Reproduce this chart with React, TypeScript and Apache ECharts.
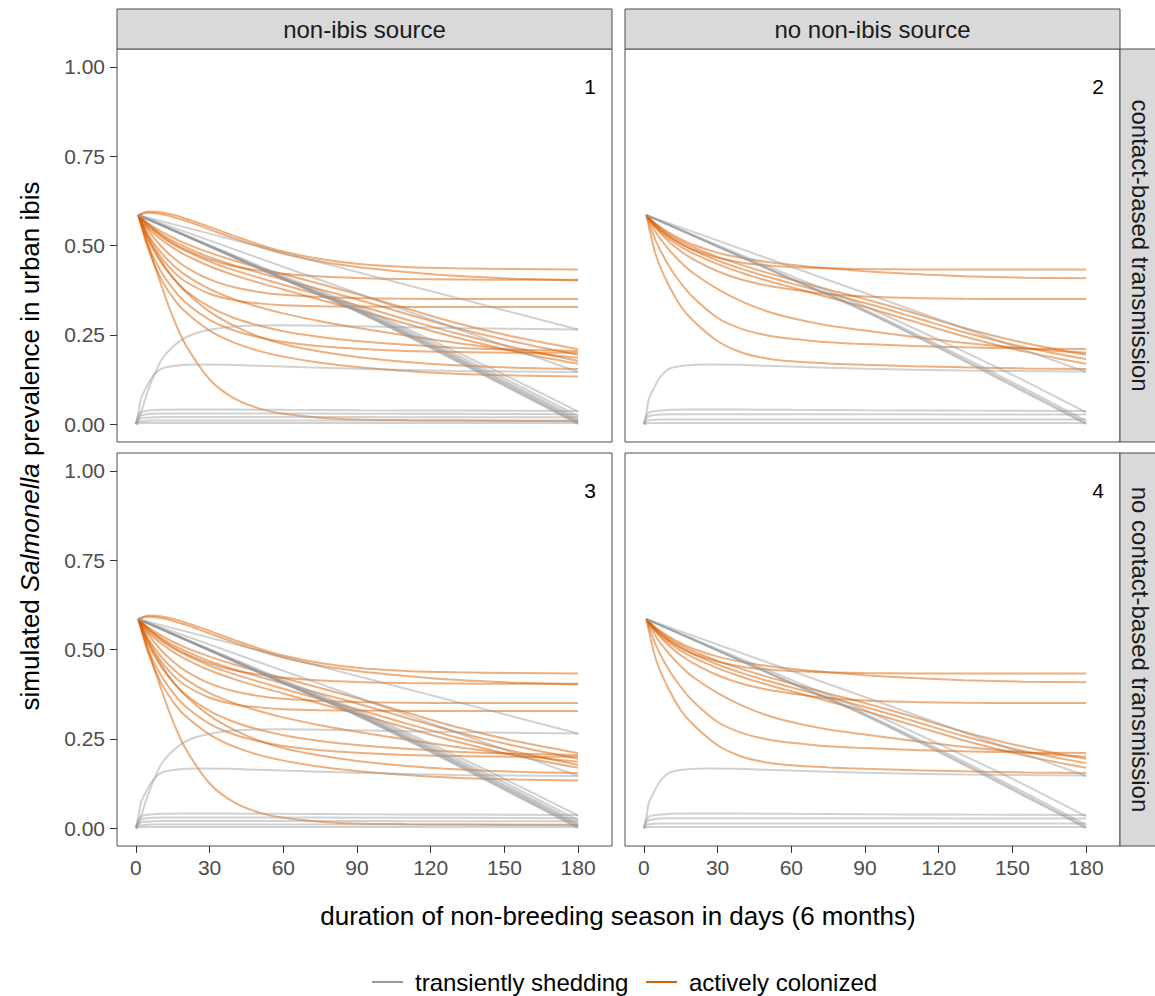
import React, { useEffect, useRef } from "react";
import * as echarts from "echarts";

// ---------- data ----------
const days = [1, 5, 10, 15, 20, 30, 40, 50, 60, 75, 90, 110, 130, 155, 180];

const colonizedWithSource = [
  [0.585, 0.595, 0.593, 0.586, 0.576, 0.552, 0.527, 0.503, 0.483, 0.462, 0.449, 0.44, 0.436, 0.434, 0.433],
  [0.585, 0.592, 0.588, 0.58, 0.57, 0.545, 0.52, 0.497, 0.477, 0.455, 0.44, 0.426, 0.415, 0.407, 0.402],
  [0.585, 0.558, 0.53, 0.507, 0.489, 0.461, 0.442, 0.43, 0.421, 0.413, 0.409, 0.406, 0.405, 0.404, 0.404],
  [0.585, 0.542, 0.5, 0.467, 0.441, 0.405, 0.383, 0.37, 0.362, 0.356, 0.353, 0.351, 0.35, 0.35, 0.35],
  [0.585, 0.525, 0.469, 0.429, 0.4, 0.365, 0.347, 0.338, 0.333, 0.33, 0.329, 0.328, 0.328, 0.328, 0.328],
  [0.585, 0.562, 0.54, 0.522, 0.506, 0.48, 0.458, 0.438, 0.42, 0.392, 0.364, 0.324, 0.284, 0.243, 0.21],
  [0.585, 0.558, 0.533, 0.513, 0.496, 0.467, 0.444, 0.424, 0.405, 0.377, 0.349, 0.309, 0.27, 0.229, 0.194],
  [0.585, 0.553, 0.526, 0.504, 0.486, 0.455, 0.431, 0.41, 0.39, 0.361, 0.333, 0.293, 0.255, 0.213, 0.177],
  [0.585, 0.548, 0.518, 0.494, 0.474, 0.442, 0.417, 0.396, 0.377, 0.348, 0.32, 0.281, 0.243, 0.202, 0.169],
  [0.585, 0.53, 0.482, 0.446, 0.418, 0.378, 0.35, 0.328, 0.31, 0.288, 0.27, 0.248, 0.228, 0.205, 0.186],
  [0.585, 0.515, 0.455, 0.41, 0.375, 0.328, 0.297, 0.276, 0.26, 0.244, 0.233, 0.222, 0.214, 0.208, 0.205],
  [0.585, 0.5, 0.43, 0.38, 0.342, 0.292, 0.262, 0.243, 0.23, 0.218, 0.211, 0.205, 0.202, 0.2, 0.2],
  [0.585, 0.52, 0.46, 0.41, 0.372, 0.315, 0.275, 0.245, 0.224, 0.203, 0.188, 0.174, 0.165, 0.158, 0.154],
  [0.585, 0.49, 0.41, 0.355, 0.315, 0.262, 0.228, 0.205, 0.189, 0.172, 0.16, 0.149, 0.141, 0.136, 0.133],
  [0.585, 0.5, 0.395, 0.3, 0.225, 0.125, 0.072, 0.044, 0.029, 0.018, 0.013, 0.011, 0.01, 0.009, 0.008],
];

const colonizedNoSource = [
  [0.585, 0.555, 0.527, 0.505, 0.488, 0.466, 0.452, 0.444, 0.44, 0.436, 0.434, 0.433, 0.433, 0.433, 0.433],
  [0.585, 0.56, 0.537, 0.518, 0.502, 0.48, 0.465, 0.454, 0.446, 0.436, 0.428, 0.42, 0.414, 0.41, 0.408],
  [0.585, 0.548, 0.512, 0.484, 0.462, 0.428, 0.404, 0.388, 0.377, 0.364, 0.357, 0.353, 0.351, 0.35, 0.35],
  [0.585, 0.558, 0.532, 0.512, 0.495, 0.468, 0.445, 0.424, 0.405, 0.377, 0.35, 0.311, 0.27, 0.227, 0.194],
  [0.585, 0.554, 0.526, 0.505, 0.487, 0.458, 0.434, 0.413, 0.394, 0.366, 0.339, 0.299, 0.258, 0.215, 0.182],
  [0.585, 0.55, 0.52, 0.497, 0.478, 0.448, 0.423, 0.402, 0.383, 0.355, 0.328, 0.287, 0.246, 0.203, 0.169],
  [0.585, 0.535, 0.49, 0.453, 0.423, 0.378, 0.343, 0.316, 0.297, 0.276, 0.262, 0.244, 0.228, 0.212, 0.2],
  [0.585, 0.51, 0.445, 0.395, 0.355, 0.297, 0.266, 0.249, 0.239, 0.229, 0.224, 0.219, 0.215, 0.212, 0.21],
  [0.585, 0.47, 0.39, 0.33, 0.29, 0.232, 0.2, 0.184, 0.176, 0.17, 0.166, 0.162, 0.159, 0.156, 0.154],
];

const diagDays = [1, 30, 60, 90, 120, 150, 180];
const shedDiagWithSource = [
  [0.585, 0.497, 0.405, 0.315, 0.213, 0.107, 0.0],
  [0.585, 0.497, 0.406, 0.316, 0.215, 0.11, 0.003],
  [0.585, 0.498, 0.407, 0.318, 0.218, 0.113, 0.006],
  [0.585, 0.498, 0.408, 0.32, 0.221, 0.117, 0.01],
  [0.585, 0.499, 0.409, 0.322, 0.224, 0.121, 0.015],
  [0.585, 0.499, 0.411, 0.325, 0.229, 0.128, 0.022],
  [0.585, 0.501, 0.415, 0.33, 0.236, 0.138, 0.035],
];
const shedDiagNoSource = [
  [0.585, 0.497, 0.405, 0.315, 0.213, 0.107, 0.0],
  [0.585, 0.497, 0.406, 0.317, 0.216, 0.111, 0.003],
  [0.585, 0.498, 0.408, 0.32, 0.221, 0.117, 0.009],
  [0.585, 0.501, 0.415, 0.33, 0.236, 0.138, 0.033],
];

const linearDays = [1, 180];
const shedLinearWithSource = [
  [0.585, 0.265],
  [0.585, 0.146],
];
const shedLinearNoSource = [[0.585, 0.146]];

const riseDays = [0, 1, 2, 4, 7, 11, 18, 25, 38, 60, 90, 130, 180];
const shedRiseWithSource = [
  [0, 0.01, 0.03, 0.075, 0.13, 0.186, 0.233, 0.256, 0.272, 0.277, 0.274, 0.269, 0.265],
  [0, 0.03, 0.07, 0.1, 0.135, 0.157, 0.165, 0.167, 0.166, 0.161, 0.155, 0.149, 0.146],
  [0, 0.025, 0.033, 0.037, 0.039, 0.04, 0.041, 0.041, 0.041, 0.04, 0.039, 0.038, 0.037],
  [0, 0.018, 0.024, 0.027, 0.029, 0.03, 0.03, 0.03, 0.03, 0.03, 0.029, 0.029, 0.028],
  [0, 0.012, 0.016, 0.018, 0.019, 0.02, 0.02, 0.02, 0.02, 0.02, 0.02, 0.019, 0.019],
  [0, 0.006, 0.008, 0.009, 0.01, 0.01, 0.01, 0.01, 0.01, 0.01, 0.01, 0.01, 0.01],
  [0, 0.002, 0.003, 0.003, 0.003, 0.003, 0.003, 0.003, 0.003, 0.003, 0.003, 0.003, 0.003],
];
const shedRiseNoSource = [
  [0, 0.03, 0.07, 0.1, 0.135, 0.157, 0.165, 0.167, 0.166, 0.161, 0.155, 0.15, 0.147],
  [0, 0.024, 0.032, 0.036, 0.038, 0.04, 0.041, 0.041, 0.041, 0.04, 0.039, 0.038, 0.037],
  [0, 0.016, 0.022, 0.025, 0.027, 0.028, 0.028, 0.028, 0.028, 0.028, 0.028, 0.027, 0.027],
  [0, 0.008, 0.011, 0.012, 0.013, 0.013, 0.013, 0.013, 0.013, 0.013, 0.013, 0.013, 0.013],
  [0, 0.002, 0.003, 0.003, 0.003, 0.003, 0.003, 0.003, 0.003, 0.003, 0.003, 0.003, 0.003],
];

const xTicks = [0, 30, 60, 90, 120, 150, 180];
const yTicks = [0, 0.25, 0.5, 0.75, 1];
const columnLabels = ["non-ibis source", "no non-ibis source"];
const rowLabels = ["contact-based transmission", "no contact-based transmission"];
const panelNumbers = ["1", "2", "3", "4"];
const legendLabels = ["transiently shedding", "actively colonized"];
const xTitle = "duration of non-breeding season in days (6 months)";

// ---------- styling ----------
const FONT = "'Liberation Sans', Arial, Helvetica, sans-serif";
const ORANGE = "#d95f02";
const GRAY = "#999999";
const PANEL_W = 495;
const PANEL_H = 393;
const LEFTS = [117, 625];
const TOPS = [49, 453];

function lineSeries(g: number, xs: number[], ys: number[], color: string, opacity: number, z: number, name: string) {
  return {
    type: "line",
    name,
    xAxisIndex: g,
    yAxisIndex: g,
    data: xs.map((x, k) => [x, ys[k]]),
    showSymbol: false,
    symbol: "none",
    smooth: xs.length > 2 ? 0.3 : false,
    lineStyle: { color, width: 2, opacity },
    silent: true,
    z,
  };
}

export default function App() {
  const ref = useRef<HTMLDivElement>(null);
  useEffect(() => {
    if (!ref.current) return;
    const chart = echarts.init(ref.current, undefined, { renderer: "svg" });

    const grids: any[] = [];
    const xAxes: any[] = [];
    const yAxes: any[] = [];
    const series: any[] = [];
    const graphics: any[] = [];

    for (let row = 0; row < 2; row++) {
      for (let col = 0; col < 2; col++) {
        const g = row * 2 + col;
        const left = LEFTS[col];
        const top = TOPS[row];
        grids.push({ left, top, width: PANEL_W, height: PANEL_H, show: true, borderColor: "#4d4d4d", borderWidth: 1, backgroundColor: "#ffffff", containLabel: false });
        const bottomRow = row === 1;
        const leftCol = col === 0;
        xAxes.push({
          gridIndex: g, type: "value", min: -7.7, max: 193.8, position: "bottom",
          axisLine: { show: false, onZero: false }, splitLine: { show: false },
          axisTick: { show: bottomRow, length: 7, customValues: xTicks, lineStyle: { color: "#333333", width: 1 } },
          axisLabel: { show: bottomRow, customValues: xTicks, color: "#4d4d4d", fontSize: 21, fontFamily: FONT, margin: 11 },
        });
        yAxes.push({
          gridIndex: g, type: "value", min: -0.05, max: 1.05, position: "left",
          axisLine: { show: false, onZero: false }, splitLine: { show: false },
          axisTick: { show: leftCol, length: 7, customValues: yTicks, lineStyle: { color: "#333333", width: 1 } },
          axisLabel: { show: leftCol, customValues: yTicks, color: "#4d4d4d", fontSize: 21, fontFamily: FONT, margin: 12, formatter: (v: number) => v.toFixed(2) },
        });

        const col0 = col === 0;
        const colonized = col0 ? colonizedWithSource : colonizedNoSource;
        const diag = col0 ? shedDiagWithSource : shedDiagNoSource;
        const lin = col0 ? shedLinearWithSource : shedLinearNoSource;
        const rise = col0 ? shedRiseWithSource : shedRiseNoSource;

        colonized.forEach((ys) => series.push(lineSeries(g, days, ys, ORANGE, 0.5, 2, legendLabels[1])));
        rise.forEach((ys) => series.push(lineSeries(g, riseDays, ys, GRAY, 0.45, 3, legendLabels[0])));
        lin.forEach((ys) => series.push(lineSeries(g, linearDays, ys, GRAY, 0.45, 3, legendLabels[0])));
        diag.forEach((ys) => series.push(lineSeries(g, diagDays, ys, GRAY, 0.45, 3, legendLabels[0])));

        graphics.push({
          type: "text", x: left + PANEL_W - 22, y: top + 37,
          style: { text: panelNumbers[g], fontSize: 21, fontFamily: FONT, fill: "#000000", align: "center", verticalAlign: "middle" },
          z: 10,
        });
      }
    }

    // top strips
    for (let col = 0; col < 2; col++) {
      graphics.push({ type: "rect", shape: { x: LEFTS[col], y: 9, width: PANEL_W, height: 40 }, style: { fill: "#d9d9d9", stroke: "#4d4d4d", lineWidth: 1 }, z: 5 });
      graphics.push({ type: "text", x: LEFTS[col] + PANEL_W / 2, y: 29, style: { text: columnLabels[col], fontSize: 24, fontFamily: FONT, fill: "#1a1a1a", align: "center", verticalAlign: "middle" }, z: 6 });
    }
    // right strips
    for (let row = 0; row < 2; row++) {
      graphics.push({ type: "rect", shape: { x: 1120, y: TOPS[row], width: 42, height: PANEL_H }, style: { fill: "#d9d9d9", stroke: "#4d4d4d", lineWidth: 1 }, z: 5 });
      graphics.push({ type: "text", x: 1140, y: TOPS[row] + PANEL_H / 2, rotation: -Math.PI / 2, style: { text: rowLabels[row], fontSize: 24, fontFamily: FONT, fill: "#1a1a1a", align: "center", verticalAlign: "middle" }, z: 6 });
    }
    // axis titles
    graphics.push({ type: "text", x: 618, y: 916, style: { text: xTitle, fontSize: 26, fontFamily: FONT, fill: "#000000", align: "center", verticalAlign: "middle" } });
    graphics.push({
      type: "text", x: 30, y: 446, rotation: Math.PI / 2,
      style: {
        text: "simulated {i|Salmonella} prevalence in urban ibis",
        fontSize: 26, fontFamily: FONT, fill: "#000000", align: "center", verticalAlign: "middle",
        rich: { i: { fontStyle: "italic", fontSize: 26, fontFamily: FONT, fill: "#000000" } },
      },
    });
    // legend
    const legendItems = [
      { color: GRAY, x: 372, label: legendLabels[0] },
      { color: ORANGE, x: 646, label: legendLabels[1] },
    ];
    legendItems.forEach((it) => {
      graphics.push({ type: "line", shape: { x1: it.x, y1: 982, x2: it.x + 31, y2: 982 }, style: { stroke: it.color, lineWidth: 2 } });
      graphics.push({ type: "text", x: it.x + 43, y: 982, style: { text: it.label, fontSize: 24, fontFamily: FONT, fill: "#000000", align: "left", verticalAlign: "middle" } });
    });

    chart.setOption({
      animation: false,
      backgroundColor: "#ffffff",
      grid: grids,
      xAxis: xAxes,
      yAxis: yAxes,
      series,
      graphic: graphics,
    });
    return () => chart.dispose();
  }, []);
  return <div ref={ref} style={{ position: "absolute", left: 0, top: 0, width: 1155, height: 996 }} />;
}
